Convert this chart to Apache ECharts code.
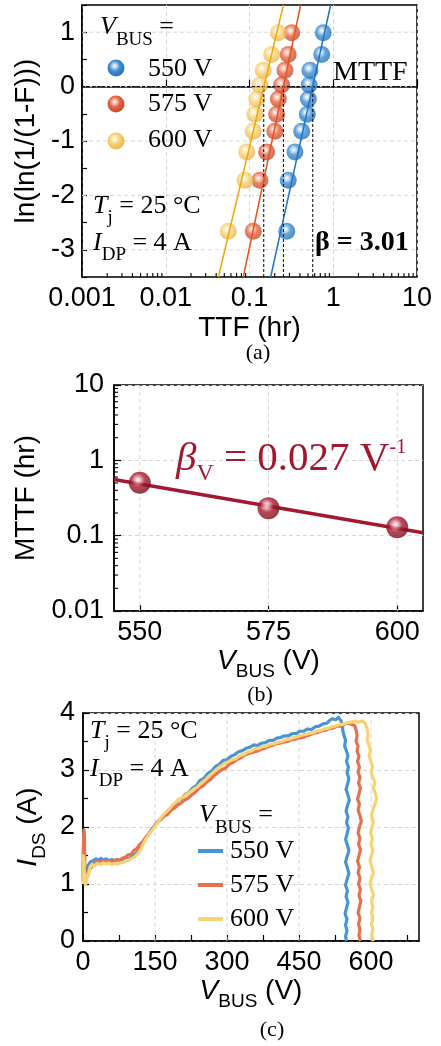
<!DOCTYPE html>
<html>
<head>
<meta charset="utf-8">
<script src="https://cdn.jsdelivr.net/npm/echarts@6/dist/echarts.min.js"></script>
<style>
  html, body { margin: 0; padding: 0; background: #fff; }
  #chart { width: 441px; height: 1046px; }
</style>
</head>
<body>
<div id="chart"></div>
<script>
// ---------- (a) Weibull plot ----------
const weibullY = [-2.66, -1.72, -1.20, -0.82, -0.51, -0.23, 0.03, 0.30, 0.59, 0.99];
const ttf550 = [0.278, 0.290, 0.349, 0.420, 0.490, 0.504, 0.515, 0.527, 0.728, 0.760];
const ttf575 = [0.111, 0.133, 0.160, 0.201, 0.211, 0.221, 0.242, 0.265, 0.290, 0.319];
const ttf600 = [0.0558, 0.0883, 0.0927, 0.111, 0.116, 0.122, 0.133, 0.146, 0.184, 0.221];
const fit550 = [[0.179, -3.5], [0.931, 1.5]];
const fit575 = [[0.0843, -3.5], [0.408, 1.5]];
const fit600 = [[0.0425, -3.5], [0.254, 1.5]];
const etaValues = [0.569, 0.254, 0.148];
const ttfTicks = [0.001, 0.01, 0.1, 1, 10];
const weibullTicks = [-3, -2, -1, 0, 1];

// ---------- (b) MTTF vs bus voltage ----------
const vbusPoints = [550, 575, 600];
const mttfHours = [0.504, 0.232, 0.129];
const mttfFit = [[545, 0.555], [605, 0.109]];
const mttfTicks = [0.01, 0.1, 1, 10];

// ---------- (c) I_DS waveforms ----------
const busLabels = ['550 V', '575 V', '600 V'];
const vbusTicks = [0, 150, 300, 450, 600];
const vbusMinorTicks = [0, 75, 150, 225, 300, 375, 450, 525, 600, 675];
const ids550 = [[0,1.05],[1,1.7],[2,1.9],[3,1.3],[4,1.1],[6,1.2],[8,1.25],[10,1.32],[13,1.36],[17,1.4],[22,1.41],[27,1.44],[32,1.41],[37,1.45],[42,1.42],[48,1.44],[54,1.41],[60,1.43],[66,1.4],[72,1.43],[78,1.41],[84,1.44],[90,1.45],[96,1.43],[102,1.48],[108,1.52],[114,1.56],[120,1.66],[126,1.73],[132,1.83],[138,1.89],[144,1.97],[150,2.03],[157,2.11],[164,2.16],[171,2.23],[178,2.28],[185,2.34],[192,2.4],[199,2.48],[206,2.5],[213,2.57],[220,2.6],[228,2.68],[236,2.72],[244,2.82],[252,2.85],[260,2.94],[268,2.98],[276,3.06],[284,3.1],[292,3.17],[300,3.18],[308,3.24],[316,3.27],[324,3.32],[332,3.34],[340,3.38],[348,3.4],[356,3.44],[364,3.43],[372,3.47],[380,3.48],[388,3.52],[396,3.52],[404,3.56],[412,3.57],[420,3.6],[428,3.6],[436,3.64],[444,3.64],[452,3.68],[460,3.68],[468,3.72],[476,3.71],[484,3.76],[492,3.77],[500,3.81],[508,3.82],[514,3.87],[520,3.9],[526,3.88],[532,3.92],[537,3.87],[541,3.78],[541,3.7],[544,3.6],[547,3.52],[545,3.42],[549,3.33],[552,3.25],[549,3.15],[553,3.05],[550,2.95],[554,2.85],[551,2.75],[548,2.66],[552,2.56],[555,2.47],[551,2.38],[548,2.28],[552,2.18],[549,2.08],[553,1.98],[550,1.88],[547,1.78],[551,1.68],[554,1.58],[550,1.48],[547,1.38],[551,1.28],[554,1.18],[550,1.08],[547,0.98],[551,0.88],[548,0.78],[552,0.68],[549,0.58],[546,0.48],[550,0.38],[547,0.28],[550,0.18],[547,0.08],[549,0]];
const ids575 = [[0,1.1],[1,1.6],[2,1.95],[3,1.85],[4,1.2],[5,1.0],[7,1.1],[10,1.15],[14,1.26],[18,1.3],[23,1.36],[28,1.37],[34,1.39],[40,1.4],[46,1.38],[52,1.41],[58,1.39],[64,1.41],[70,1.43],[76,1.41],[82,1.45],[88,1.47],[94,1.51],[100,1.52],[106,1.59],[112,1.62],[118,1.69],[124,1.74],[130,1.81],[136,1.86],[142,1.94],[148,2.0],[155,2.08],[162,2.13],[169,2.19],[176,2.22],[183,2.29],[190,2.33],[197,2.38],[204,2.42],[211,2.47],[218,2.5],[226,2.56],[234,2.61],[242,2.68],[250,2.72],[258,2.79],[266,2.84],[274,2.91],[282,2.96],[290,3.01],[298,3.04],[306,3.11],[314,3.14],[322,3.19],[330,3.22],[338,3.27],[346,3.29],[354,3.31],[362,3.33],[370,3.36],[378,3.38],[386,3.41],[394,3.43],[402,3.46],[410,3.47],[418,3.49],[426,3.5],[434,3.53],[442,3.54],[450,3.56],[458,3.57],[466,3.6],[474,3.62],[482,3.65],[490,3.66],[498,3.69],[506,3.7],[514,3.73],[522,3.74],[530,3.77],[538,3.77],[546,3.81],[554,3.82],[560,3.8],[566,3.78],[569,3.7],[571,3.6],[569,3.5],[573,3.42],[571,3.33],[575,3.24],[572,3.15],[576,3.05],[573,2.96],[577,2.87],[574,2.77],[578,2.68],[575,2.58],[572,2.49],[576,2.4],[573,2.3],[577,2.2],[580,2.1],[576,2.0],[573,1.9],[577,1.8],[574,1.7],[578,1.6],[575,1.5],[572,1.4],[576,1.3],[573,1.2],[577,1.1],[574,1.0],[578,0.9],[575,0.8],[579,0.7],[576,0.6],[573,0.5],[577,0.4],[574,0.3],[577,0.2],[575,0.1],[578,0]];
const ids600 = [[0,1.0],[1,1.5],[2,1.4],[3,1.05],[5,0.98],[7,1.05],[9,1.15],[12,1.2],[15,1.3],[19,1.34],[24,1.32],[30,1.36],[36,1.34],[42,1.37],[48,1.35],[54,1.37],[60,1.34],[66,1.36],[72,1.35],[78,1.37],[84,1.38],[90,1.41],[96,1.42],[102,1.45],[108,1.48],[114,1.53],[120,1.6],[126,1.71],[132,1.8],[138,1.88],[144,1.94],[150,2.01],[156,2.08],[162,2.16],[168,2.22],[174,2.27],[180,2.32],[187,2.39],[194,2.44],[201,2.49],[208,2.52],[215,2.57],[222,2.6],[230,2.66],[238,2.7],[246,2.77],[254,2.82],[262,2.89],[270,2.95],[278,3.01],[286,3.06],[294,3.11],[302,3.14],[310,3.18],[318,3.2],[326,3.25],[334,3.27],[342,3.31],[350,3.33],[358,3.37],[366,3.38],[374,3.41],[382,3.42],[390,3.45],[398,3.46],[406,3.49],[414,3.5],[422,3.53],[430,3.54],[438,3.57],[446,3.58],[454,3.61],[462,3.62],[470,3.64],[478,3.65],[486,3.68],[494,3.69],[502,3.72],[510,3.73],[518,3.76],[526,3.77],[534,3.8],[542,3.8],[550,3.83],[558,3.84],[566,3.86],[574,3.84],[582,3.86],[588,3.82],[592,3.72],[594,3.62],[592,3.52],[596,3.43],[599,3.34],[596,3.25],[600,3.15],[603,3.06],[600,2.96],[604,2.87],[608,2.78],[605,2.68],[609,2.59],[612,2.5],[608,2.4],[604,2.3],[601,2.2],[605,2.1],[602,2.0],[599,1.9],[603,1.8],[600,1.7],[604,1.6],[601,1.5],[598,1.4],[602,1.3],[605,1.2],[601,1.1],[598,1.0],[602,0.9],[605,0.8],[601,0.7],[604,0.6],[601,0.5],[604,0.4],[601,0.3],[604,0.2],[602,0.1],[605,0]];

// ---------- styling ----------
const SERIF = 'Liberation Serif';
const SANS = 'Liberation Sans';
const BLUE = { line: '#1f74c8', base: '#3b8ed3', light: '#d3e6f7', dark: '#2a70b2', wave: '#4b94d3' };
const RED = { line: '#e4541f', base: '#e66444', light: '#f9d3c7', dark: '#c44a2c', wave: '#e8714c' };
const YEL = { line: '#f0a70c', base: '#f6cf72', light: '#fdf2d3', dark: '#e8b64f', wave: '#f6d475' };
const WINE = { line: '#a3172f', base: '#a8192e', light: '#f2c6cd', dark: '#760d1d' };
const GRID_LINE = '#d6d6d6';
const TICK_FONT = 27;

function sphere(c) {
  return {
    type: 'radial', x: 0.42, y: 0.38, r: 0.62,
    colorStops: [
      { offset: 0, color: '#ffffff' },
      { offset: 0.14, color: c.light },
      { offset: 0.5, color: c.base },
      { offset: 1, color: c.dark }
    ]
  };
}

function fmtNum(v) { return String(Number(Number(v).toPrecision(6))); }

// dashed reference lines spanning a grid (drawn with the grid's own scales)
function gridLines(idx, dir, vals, ref) {
  return {
    type: 'custom', xAxisIndex: idx, yAxisIndex: idx, silent: true, z: 1, clip: false,
    data: vals.map(v => dir === 'x' ? [v, ref] : [ref, v]),
    renderItem: (params, api) => {
      const cs = params.coordSys;
      const p = api.coord([api.value(0), api.value(1)]);
      const shape = dir === 'x'
        ? { x1: p[0], y1: cs.y, x2: p[0], y2: cs.y + cs.height }
        : { x1: cs.x, y1: p[1], x2: cs.x + cs.width, y2: p[1] };
      return { type: 'line', shape, style: { stroke: GRID_LINE, lineWidth: 1, lineDash: [4, 3] } };
    }
  };
}

// minor ticks of the log axes, inside the bottom / left edge
function edgeTicks(idx, dir, vals, ref, len) {
  return {
    type: 'custom', xAxisIndex: idx, yAxisIndex: idx, silent: true, z: 6, clip: false,
    data: vals.map(v => dir === 'x' ? [v, ref] : [ref, v]),
    renderItem: (params, api) => {
      const cs = params.coordSys;
      const p = api.coord([api.value(0), api.value(1)]);
      const shape = dir === 'x'
        ? { x1: p[0], y1: cs.y + cs.height, x2: p[0], y2: cs.y + cs.height - len }
        : { x1: cs.x, y1: p[1], x2: cs.x + len, y2: p[1] };
      return { type: 'line', shape, style: { stroke: '#000', lineWidth: 1.1 } };
    }
  };
}

const minorMult = [2, 3, 4, 5, 6, 7, 8, 9];
const ttfMinor = [];
[0.001, 0.01, 0.1, 1].forEach(d => minorMult.forEach(m => ttfMinor.push(d * m)));
const mttfMinor = [];
[0.01, 0.1, 1].forEach(d => minorMult.forEach(m => mttfMinor.push(d * m)));

const axisLineStyle = { show: true, lineStyle: { color: '#000', width: 1.5 } };
const tickStyle = (len) => ({ show: true, inside: true, length: len, lineStyle: { color: '#000', width: 1.2 } });
const labelStyle = (extra) => Object.assign({ color: '#000', fontFamily: SANS, fontSize: TICK_FONT, margin: 8 }, extra || {});
const nameStyle = (size, extra) => Object.assign({ color: '#000', fontFamily: SANS, fontSize: size }, extra || {});
const subRich = (size, pad) => ({ fontFamily: SANS, fontSize: size, padding: [pad, 0, 0, 0] });
const dashedSplit = { show: true, lineStyle: { color: GRID_LINE, width: 1, type: [4, 3] } };

const chart = echarts.init(document.getElementById('chart'), null, { renderer: 'canvas' });

const weibullSets = [
  { data: ttf550, fit: fit550, c: BLUE },
  { data: ttf575, fit: fit575, c: RED },
  { data: ttf600, fit: fit600, c: YEL }
];

const series = [];
// (a) Weibull probability plot
series.push(gridLines(0, 'y', weibullTicks, 1));
series.push({
  type: 'line', xAxisIndex: 0, yAxisIndex: 0, silent: true, z: 5, symbol: 'none',
  data: [[ttfTicks[0], 0], [ttfTicks[ttfTicks.length - 1], 0]],
  lineStyle: { color: '#000', width: 1, type: [3, 2] }
});
etaValues.forEach(eta => series.push({
  type: 'line', xAxisIndex: 0, yAxisIndex: 0, silent: true, z: 5, symbol: 'none',
  data: [[eta, -3.5], [eta, 0]],
  lineStyle: { color: '#000', width: 1, type: [3, 2] }
}));
weibullSets.forEach(s => {
  series.push({
    type: 'scatter', xAxisIndex: 0, yAxisIndex: 0, z: 3, symbolSize: 17,
    data: s.data.map((t, i) => [t, weibullY[i]]),
    itemStyle: { color: sphere(s.c) }
  });
  series.push({
    type: 'line', xAxisIndex: 0, yAxisIndex: 0, z: 5, symbol: 'none', silent: true,
    data: s.fit, lineStyle: { color: s.c.line, width: 1.5 }
  });
});
series.push(edgeTicks(0, 'x', ttfMinor, 0, 4));

// (b) MTTF against bus voltage
series.push(gridLines(1, 'x', vbusPoints, 1));
series.push({
  type: 'line', xAxisIndex: 1, yAxisIndex: 1, z: 3, symbol: 'none', silent: true,
  data: mttfFit, lineStyle: { color: WINE.line, width: 3.5 }
});
series.push({
  type: 'scatter', xAxisIndex: 1, yAxisIndex: 1, z: 4, symbolSize: 22,
  data: vbusPoints.map((v, i) => [v, mttfHours[i]]),
  itemStyle: { color: sphere(WINE) }
});
series.push(edgeTicks(1, 'y', mttfMinor, 575, 4));

// (c) drain current waveforms
series.push(gridLines(2, 'x', vbusTicks.slice(1), 2));
[[ids550, BLUE], [ids575, RED], [ids600, YEL]].forEach(([d, c]) => series.push({
  type: 'line', xAxisIndex: 2, yAxisIndex: 2, z: 3, symbol: 'none', silent: true,
  data: d, lineStyle: { color: c.wave, width: 3.2, join: 'round' }
}));

const serifText = (x, y, text, extra) => ({
  type: 'text', x, y, silent: true, z: 100,
  style: Object.assign({
    text, fontFamily: SERIF, fontSize: 26, fill: '#000', verticalAlign: 'middle', align: 'left'
  }, extra || {})
});
const richSerif = (fs, subFs, pad) => ({
  i: { fontFamily: SERIF, fontSize: fs, fontStyle: 'italic' },
  s: { fontFamily: SERIF, fontSize: subFs, padding: [pad, 0, 0, 0] }
});

const graphics = [
  // (a) annotations
  serifText(100, 27, '{i|V}{s|BUS} =', { rich: richSerif(26, 19, 26) }),
  serifText(148, 69, busLabels[0]),
  serifText(148, 104, busLabels[1]),
  serifText(148, 140, busLabels[2]),
  serifText(333, 73, 'MTTF', { fontSize: 28 }),
  serifText(93, 206, '{i|T}{s|j} = 25 °C', { rich: richSerif(26, 19, 24) }),
  serifText(93, 243, '{i|I}{s|DP} = 4 A', { rich: richSerif(26, 19, 24) }),
  serifText(315, 243, 'β = 3.01', { fontWeight: 'bold', fontSize: 28 }),
  serifText(258, 353, '(a)', { fontSize: 22, align: 'center' }),
  // (b)
  serifText(176, 459, '{i|β}{s|V} = 0.027 V{p|-1}', {
    fontSize: 41, fill: WINE.line,
    rich: {
      i: { fontFamily: SERIF, fontSize: 41, fontStyle: 'italic', fill: WINE.line },
      s: { fontFamily: SERIF, fontSize: 24, padding: [30, 0, 0, 0], fill: WINE.line },
      p: { fontFamily: SERIF, fontSize: 20, padding: [0, 0, 22, 0], fill: WINE.line }
    }
  }),
  serifText(260, 695, '(b)', { fontSize: 22, align: 'center' }),
  // (c)
  serifText(90, 731, '{i|T}{s|j} = 25 °C', { rich: richSerif(26, 19, 24) }),
  serifText(90, 769, '{i|I}{s|DP} = 4 A', { rich: richSerif(26, 19, 24) }),
  serifText(199, 815, '{i|V}{s|BUS} =', { rich: richSerif(26, 19, 26) }),
  serifText(230, 851, busLabels[0]),
  serifText(230, 885, busLabels[1]),
  serifText(230, 919, busLabels[2]),
  serifText(272, 1030, '(c)', { fontSize: 22, align: 'center' })
];
// legend spheres for (a)
[[68, BLUE], [104, RED], [141, YEL]].forEach(([y, c]) => graphics.push({
  type: 'circle', shape: { cx: 116, cy: y, r: 8.5 }, silent: true, z: 100,
  style: { fill: new echarts.graphic.RadialGradient(0.42, 0.38, 0.62, sphere(c).colorStops) }
}));
// legend strokes for (c)
[[851, BLUE], [885, RED], [919, YEL]].forEach(([y, c]) => graphics.push({
  type: 'line', shape: { x1: 198, y1: y, x2: 223, y2: y }, silent: true, z: 100,
  style: { stroke: c.wave, lineWidth: 4 }
}));

const option = {
  animation: false,
  backgroundColor: '#fff',
  grid: [
    { left: 82, top: 5, width: 335, height: 272, show: true, borderColor: '#000', borderWidth: 1.5, backgroundColor: 'transparent' },
    { left: 114, top: 385, width: 309, height: 226, show: true, borderColor: '#000', borderWidth: 1.5, backgroundColor: 'transparent' },
    { left: 83, top: 713, width: 336, height: 228, show: true, borderColor: '#000', borderWidth: 1.5, backgroundColor: 'transparent' }
  ],
  xAxis: [
    {
      gridIndex: 0, type: 'log', logBase: 10, min: ttfTicks[0], max: ttfTicks[ttfTicks.length - 1],
      axisLine: axisLineStyle, axisTick: tickStyle(7),
      axisLabel: labelStyle({ formatter: fmtNum }),
      splitLine: dashedSplit,
      name: 'TTF (hr)', nameLocation: 'middle', nameGap: 37, nameTextStyle: nameStyle(28)
    },
    {
      gridIndex: 1, type: 'value', min: 545, max: 605,
      axisLine: axisLineStyle,
      axisTick: Object.assign(tickStyle(6), { customValues: vbusPoints }),
      axisLabel: labelStyle({ customValues: vbusPoints }),
      splitLine: { show: false },
      name: '{i|V}{s|BUS} (V)', nameLocation: 'middle', nameGap: 27,
      nameTextStyle: nameStyle(28, { rich: { i: { fontFamily: SANS, fontSize: 28, fontStyle: 'italic' }, s: subRich(19, 22) } })
    },
    {
      gridIndex: 2, type: 'value', min: 0, max: 700,
      axisLine: axisLineStyle,
      axisTick: Object.assign(tickStyle(6), { customValues: vbusMinorTicks }),
      axisLabel: labelStyle({ customValues: vbusTicks }),
      splitLine: { show: false },
      name: '{i|V}{s|BUS} (V)', nameLocation: 'middle', nameGap: 28,
      nameTextStyle: nameStyle(28, { rich: { i: { fontFamily: SANS, fontSize: 28, fontStyle: 'italic' }, s: subRich(19, 22) } })
    }
  ],
  yAxis: [
    {
      gridIndex: 0, type: 'value', min: -3.5, max: 1.5, interval: 0.5,
      axisLine: axisLineStyle, axisTick: tickStyle(5),
      axisLabel: labelStyle({ margin: 7, formatter: v => Math.abs(v - Math.round(v)) < 1e-6 ? String(Math.round(v)) : '' }),
      splitLine: { show: false },
      name: 'ln(ln(1/(1-F)))', nameLocation: 'middle', nameGap: 33, nameTextStyle: nameStyle(28)
    },
    {
      gridIndex: 1, type: 'log', logBase: 10, min: mttfTicks[0], max: mttfTicks[mttfTicks.length - 1],
      axisLine: axisLineStyle, axisTick: tickStyle(7),
      axisLabel: labelStyle({ margin: 10, formatter: fmtNum }),
      splitLine: dashedSplit,
      name: 'MTTF (hr)', nameLocation: 'middle', nameGap: 66, nameTextStyle: nameStyle(28)
    },
    {
      gridIndex: 2, type: 'value', min: 0, max: 4, interval: 1,
      axisLine: axisLineStyle, axisTick: tickStyle(6),
      minorTick: { show: true, splitNumber: 2, length: 5, lineStyle: { color: '#000', width: 1.2 } },
      axisLabel: labelStyle({ margin: 8 }),
      splitLine: dashedSplit,
      name: '{i|I}{s|DS} (A)', nameLocation: 'middle', nameGap: 18,
      nameTextStyle: nameStyle(28, { rich: { i: { fontFamily: SANS, fontSize: 28, fontStyle: 'italic' }, s: subRich(19, 22) } })
    }
  ],
  series,
  graphic: graphics
};

chart.setOption(option);
</script>
</body>
</html>
